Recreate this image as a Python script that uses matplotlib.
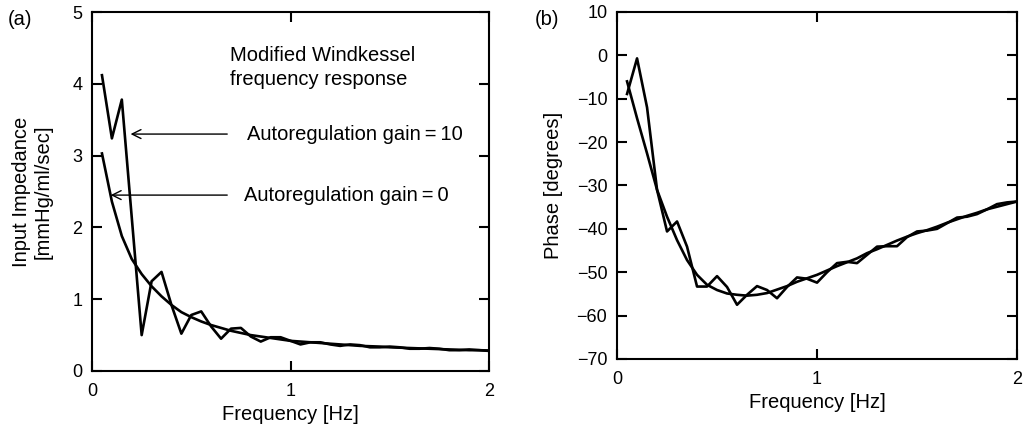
import numpy as np
import matplotlib
matplotlib.use('Agg')
import matplotlib.pyplot as plt

plt.rcParams['font.family'] = ['Liberation Sans', 'DejaVu Sans']

# frequency points [Hz]
freq = np.round(np.arange(1, 41) * 0.05, 2)

# input impedance [mmHg/ml/sec]
imp_gain0 = [3.03, 2.36, 1.88, 1.56, 1.35, 1.18, 1.04, 0.92, 0.82, 0.75,
             0.69, 0.64, 0.60, 0.56, 0.53, 0.50, 0.48, 0.46, 0.44, 0.42,
             0.41, 0.40, 0.39, 0.38, 0.37, 0.36, 0.35, 0.345, 0.34, 0.33,
             0.325, 0.32, 0.315, 0.31, 0.305, 0.30, 0.295, 0.29, 0.29, 0.285]
imp_gain10 = [4.12, 3.24, 3.78, 2.14, 0.50, 1.25, 1.38, 0.92, 0.52, 0.78,
              0.83, 0.62, 0.45, 0.59, 0.60, 0.48, 0.41, 0.47, 0.47, 0.42,
              0.37, 0.40, 0.40, 0.37, 0.35, 0.37, 0.36, 0.33, 0.33, 0.34,
              0.33, 0.31, 0.31, 0.32, 0.31, 0.29, 0.29, 0.30, 0.29, 0.28]

# phase [degrees]
phase_gain0 = [-6.0, -14.5, -22.6, -31.0, -37.2, -42.6, -47.2, -50.6, -52.9, -54.1,
               -54.9, -55.2, -55.4, -55.2, -54.8, -54.0, -53.2, -52.2, -51.4, -50.6,
               -49.6, -48.6, -47.7, -46.8, -45.6, -44.7, -43.7, -42.7, -41.8, -41.0,
               -40.3, -39.5, -38.6, -37.8, -37.0, -36.3, -35.5, -34.9, -34.3, -33.7]
phase_gain10 = [-8.9, -0.7, -12.0, -31.0, -40.6, -38.3, -44.1, -53.3, -53.3, -50.9,
                -53.4, -57.5, -55.2, -53.2, -54.1, -56.0, -53.4, -51.2, -51.5, -52.4,
                -50.0, -47.9, -47.6, -47.9, -46.0, -44.1, -44.0, -44.0, -41.9, -40.6,
                -40.4, -40.0, -38.7, -37.4, -37.2, -36.6, -35.5, -34.3, -33.9, -33.7]

fig = plt.figure(figsize=(10.25, 4.29), dpi=100)
ax1 = fig.add_axes([0.0898, 0.1352, 0.3873, 0.8368])
ax2 = fig.add_axes([0.6020, 0.1632, 0.3902, 0.8089])

fs = 14.5   # labels and annotations
tfs = 13    # tick labels

for ax in (ax1, ax2):
    for s in ax.spines.values():
        s.set_linewidth(1.5)
    ax.tick_params(direction='in', top=True, right=True, length=7, width=1.5,
                   labelsize=tfs)
    ax.tick_params(axis='x', pad=9)
    ax.tick_params(axis='y', pad=7)
    ax.set_xlim(0, 2)
    ax.set_xticks([0, 1, 2])
    ax.set_xlabel('Frequency [Hz]', fontsize=fs, labelpad=3)

# (a) impedance
ax1.plot(freq, imp_gain0, color='black', lw=1.9)
ax1.plot(freq, imp_gain10, color='black', lw=1.9)
ax1.set_ylim(0, 5)
ax1.set_yticks(range(6))
ax1.set_ylabel('Input Impedance\n[mmHg/ml/sec]', fontsize=fs, labelpad=14,
               linespacing=1.2)
ax1.text(0.695, 4.23, 'Modified Windkessel\nfrequency response', fontsize=fs,
         ha='left', va='center', linespacing=1.3)
ax1.annotate('', xy=(0.18, 3.30), xytext=(0.695, 3.30),
             arrowprops=dict(arrowstyle='->', color='black', lw=1.0,
                             mutation_scale=16))
ax1.text(0.78, 3.30, 'Autoregulation gain\u2009=\u200910', fontsize=fs,
         ha='left', va='center')
ax1.annotate('', xy=(0.08, 2.45), xytext=(0.695, 2.45),
             arrowprops=dict(arrowstyle='->', color='black', lw=1.0,
                             mutation_scale=16))
ax1.text(0.766, 2.45, 'Autoregulation gain\u2009=\u20090', fontsize=fs,
         ha='left', va='center')
fig.text(0.008, 0.942, '(a)', fontsize=fs)

# (b) phase
ax2.plot(freq, phase_gain0, color='black', lw=1.9)
ax2.plot(freq, phase_gain10, color='black', lw=1.9)
ax2.set_ylim(-70, 10)
ax2.set_yticks(range(-70, 11, 10))
ax2.set_yticklabels([f'\u2212{abs(v)}' if v < 0 else str(v) for v in range(-70, 11, 10)])
ax2.set_ylabel('Phase [degrees]', fontsize=fs, labelpad=10)
fig.text(0.522, 0.942, '(b)', fontsize=fs)

fig.savefig('out.png', dpi=100)
